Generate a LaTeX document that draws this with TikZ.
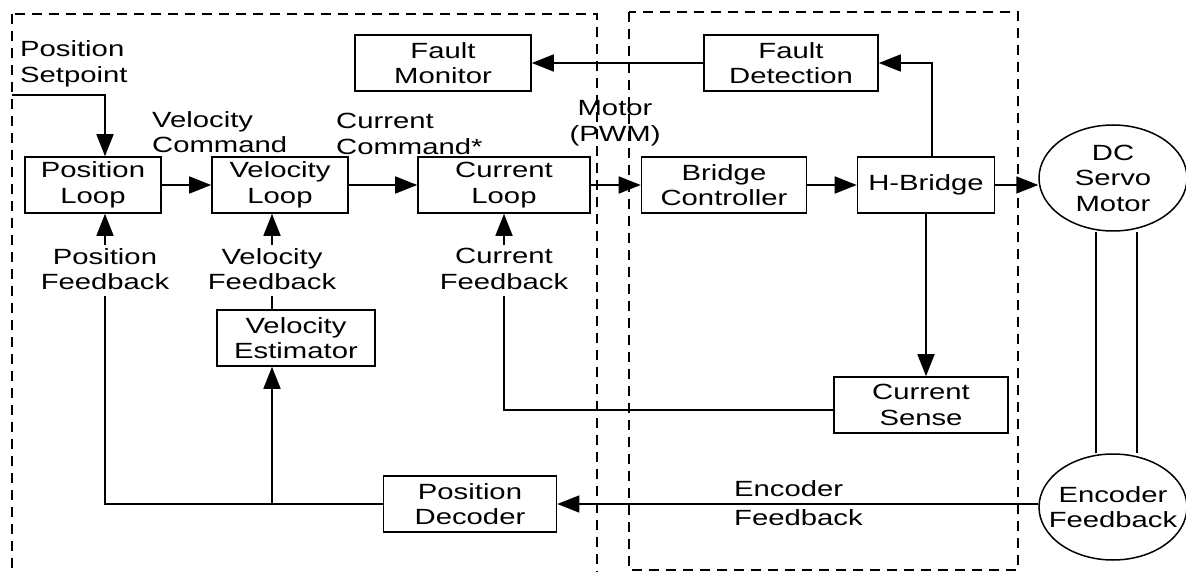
\documentclass[tikz,border=0pt]{standalone}
\usepackage{fontspec}
\setmainfont{Liberation Sans}[FakeStretch=1.33]
\usetikzlibrary{positioning, calc, arrows.meta, shapes.geometric}

\begin{document}
\begin{tikzpicture}[x=1pt, y=-1pt, >={Triangle[length=22pt, width=17pt]},
	every node/.style={font=\fontsize{22}{25.5}\selectfont, align=center, inner sep=0pt},
	block/.style={draw, line width=1.6pt, minimum height=56pt},
	motor/.style={draw, ellipse, line width=1.5pt, minimum width=148pt, minimum height=106pt},
	line/.style={line width=1.6pt},
	dashbox/.style={line width=1.6pt, dash pattern=on 10pt off 7pt}]
	\useasboundingbox (0,0) rectangle (1186,572);
	\draw[dashbox] (12,14) rectangle (597,600);
	\draw[dashbox] (629,12) rectangle (1018,570);

	\node[block, minimum width=176pt] (fm) at (443,63) {Fault\\Monitor};
	\node[block, minimum width=174pt] (fd) at (791,63) {Fault\\Detection};
	\node[block, minimum width=136pt] (pl) at (93,185) {Position\\Loop};
	\node[block, minimum width=136pt] (vl) at (280,185) {Velocity\\Loop};
	\node[block, minimum width=172pt] (cl) at (504,185) {Current\\Loop};
	\node[block, minimum width=165pt] (bc) at (724,185) {Bridge\\Controller};
	\node[block, minimum width=137pt] (hb) at (926,185) {H-Bridge};
	\node[block, minimum width=158pt] (ve) at (296,338) {Velocity\\Estimator};
	\node[block, minimum width=174pt] (cs) at (921,405) {Current\\Sense};
	\node[block, minimum width=173pt] (pd) at (470,504) {Position\\Decoder};
	\node[motor] (dc) at (1113,178) {};
	\node at (dc) {DC\\Servo\\Motor};
	\node[motor] (enc) at (1113,507) {};
	\node at (enc) {Encoder\\Feedback};

	\node[anchor=west, align=left] (sp) at (20,64) {Position\\Setpoint};
	\node[anchor=west, align=left] (vc) at (152,132) {Velocity\\Command};
	\node[anchor=west, align=left] (cc) at (336,134) {Current\\Command*};
	\node (pwm) at (615,123) {Motor\\(PWM)};
	\node (pfb) at (105,269) {Position\\Feedback};
	\node (vfb) at (272,269) {Velocity\\Feedback};
	\node (cfb) at (504,269) {Current\\Feedback};
	\node[anchor=west, align=left] (ef) at (734,503) {Encoder\\[4pt]Feedback};
	\coordinate (spin) at (12,95);

	\draw[line, ->] (spin) -| ([xshift=12pt]pl.north);
	\draw[line, ->] (pl) -- (vl);
	\draw[line, ->] (vl) -- (cl);
	\draw[line, ->] (cl) -- (bc);
	\draw[line, ->] (bc) -- (hb);
	\draw[line, ->] (hb.east) -- (hb.east -| dc.west);
	\draw[line, ->] ([xshift=6pt]hb.north) |- (fd);
	\draw[line, ->] (fd) -- (fm);
	\draw[line, ->] (hb.south) -- (hb.south |- cs.north);
	\draw[line] ([yshift=-5pt]cs.west) -| ([yshift=-6pt]cfb.south);
	\draw[line, ->] ([yshift=3pt]cfb.north) -- (cfb.north |- cl.south);
	\draw[line, ->] ([yshift=3pt]pfb.north) -- (pfb.north |- pl.south);
	\draw[line, ->] ([yshift=3pt]vfb.north) -- (vfb.north |- vl.south);
	\draw[line] ([yshift=-6pt]vfb.south) -- (vfb.south |- ve.north);
	\draw[line] ([yshift=-6pt]pfb.south) |- (pd);
	\draw[line, ->] (vfb.south |- pd.west) -- (vfb.south |- ve.south);
	\draw[line, ->] (enc.west |- pd.east) -- (pd.east);
	\draw[line] ([xshift=-17pt]dc.south) -- ([xshift=-17pt]enc.north);
	\draw[line] ([xshift=24pt]dc.south) -- ([xshift=24pt]enc.north);
\end{tikzpicture}
\end{document}
